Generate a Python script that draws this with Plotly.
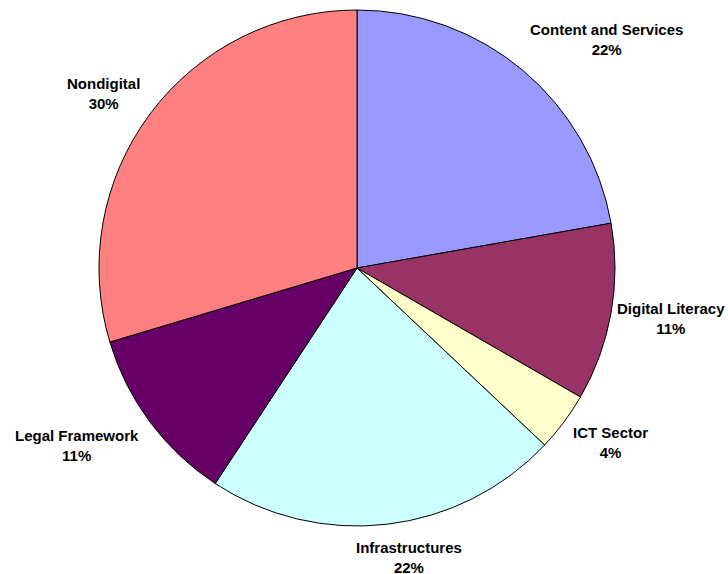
import plotly.graph_objects as go

categories = ["Content and Services", "Digital Literacy", "ICT Sector",
              "Infrastructures", "Legal Framework", "Nondigital"]
values = [6, 3, 1, 6, 3, 8]
colors = ["#9999FF", "#993366", "#FFFFCC", "#CCFFFF", "#660066", "#FF8080"]

# label anchor positions in pixels (x, y of the first line centre)
label_pos = {
    "Content and Services": (606, 29),
    "Digital Literacy": (671, 308),
    "ICT Sector": (610, 432),
    "Infrastructures": (409, 547),
    "Legal Framework": (77, 436),
    "Nondigital": (103, 84),
}

W, H = 728, 574
cx, cy, r = 357, 268, 258

fig = go.Figure(go.Pie(
    labels=categories,
    values=values,
    marker=dict(colors=colors, line=dict(color="black", width=1)),
    sort=False,
    direction="clockwise",
    rotation=0,
    textinfo="none",
    hoverinfo="label+percent",
    domain=dict(x=[(cx - r) / W, (cx + r) / W], y=[1 - (cy + r) / H, 1 - (cy - r) / H]),
    showlegend=False,
))

total = sum(values)
annotations = []
for cat, v in zip(categories, values):
    px, py = label_pos[cat]
    pct = round(v / total * 100)
    annotations.append(dict(
        x=px / W, y=1 - (py + 10) / H, xref="paper", yref="paper",
        xanchor="center", yanchor="middle", showarrow=False,
        text=f"<b>{cat}</b><br><b>{pct}%</b>",
        font=dict(family="Liberation Sans, Arial", size=15, color="black"),
        align="center",
    ))

fig.update_layout(
    width=W, height=H,
    margin=dict(l=0, r=0, t=0, b=0),
    paper_bgcolor="white", plot_bgcolor="white",
    annotations=annotations,
)

fig.write_html("out.html", config={"displayModeBar": False},
               post_script="document.body.style.margin='0';document.body.style.overflow='hidden';")
